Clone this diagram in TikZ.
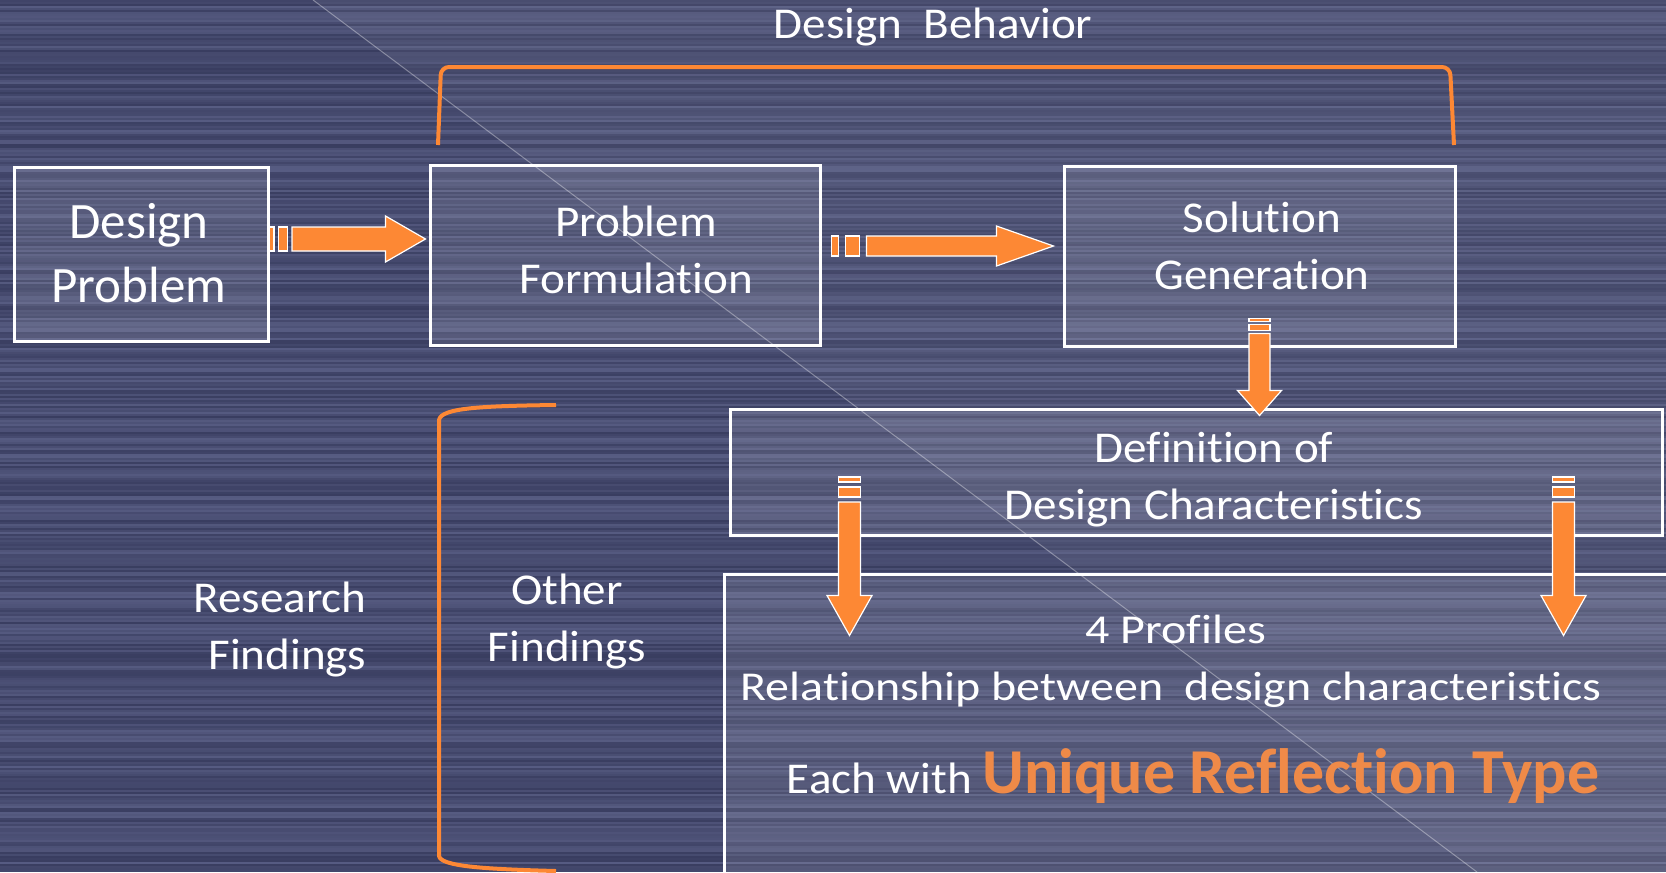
\documentclass[tikz,border=0pt]{standalone}
\usepackage{fontspec}
\setmainfont{Carlito}[Ligatures={NoCommon,NoContextual}]
\newfontfamily\slidefont[FakeStretch=1.07,Ligatures={NoCommon,NoContextual}]{Carlito}
\newfontfamily\widefont[FakeStretch=1.17,Ligatures={NoCommon,NoContextual}]{Carlito}
\usepackage{tikz}
\usetikzlibrary{calc}
\definecolor{slatebg}{RGB}{68,73,112}
\definecolor{streaklo}{RGB}{50,54,88}
\definecolor{streakhi}{RGB}{94,99,138}
\definecolor{flow}{RGB}{253,136,52}
\definecolor{flowtext}{RGB}{239,138,72}
\tikzset{
  stagebox/.style 2 args={draw=white, line width=2.25pt, fill=white, fill opacity=0.1,
    inner sep=0pt, minimum width=#1*0.75pt, minimum height=#2*0.75pt},
  stagetext/.style={text=white, align=center, inner sep=0pt,
    font=\slidefont\fontsize{33}{42.75}\selectfont},
  flowpart/.style={fill=flow, draw=white, line width=0.9pt},
  bracket/.style={draw=flow, line width=3pt},
}
% block arrow: from, to, body half width, head half width, head length, stripe unit (px)
\newcommand{\flowarrow}[6]{%
  \path (#1) coordinate (fa-a) (#2) coordinate (fa-b);
  \pgfpointdiff{\pgfpointanchor{fa-a}{center}}{\pgfpointanchor{fa-b}{center}}%
  \pgfgetlastxy{\fadx}{\fady}%
  \pgfmathsetmacro{\falen}{veclen(\fadx,\fady)/0.75}%
  \pgfmathsetmacro{\faang}{atan2(\fady,\fadx)}%
  \begin{scope}[shift={(fa-a)}, rotate=\faang, x=0.75pt, y=0.75pt]
    \filldraw[flowpart] (0,-#3) rectangle (#6,#3);
    \filldraw[flowpart] (2*#6,-#3) rectangle (4*#6,#3);
    \filldraw[flowpart] (5*#6,-#3) -- ({\falen-#5},-#3) -- ({\falen-#5},-#4) -- (\falen,0)
      -- ({\falen-#5},#4) -- ({\falen-#5},#3) -- (5*#6,#3) -- cycle;
  \end{scope}}

\begin{document}
\begin{tikzpicture}[x=0.75pt,y=-0.75pt]
\clip (0,0) rectangle (1666,872);
\fill[slatebg] (0,0) rectangle (1666,872);
\pgfmathsetseed{42}
\foreach \k in {0,...,435}{
  \pgfmathsetmacro\mixval{int(15+70*rnd)}
  \fill[streakhi!\mixval!streaklo] (0,2*\k) rectangle (1666,2*\k+2);
}
\fill[white, opacity=0.05] (313,0) -- (1666,0) -- (1666,872) -- (1477,872) -- cycle;
\draw[white, opacity=0.35, line width=0.75pt] (313,0) -- (1477,872);

\node[stagebox={254}{174}] (dp) at (141,254) {};
\node[stagebox={390}{180}] (pf) at (625,255) {};
\node[stagebox={391}{180}] (sg) at (1259.5,256) {};
\node[stagebox={932}{126}] (def) at (1196,472) {};
\node[stagebox={976}{356}] (prof) at (1212,752) {};

\node[stagetext, font=\fontsize{38.25}{48}\selectfont] (dptext) at (139,253.5) {Design\\Problem};
\node[stagetext] (pftext) at (636,249.5) {Problem\\Formulation};
\node[stagetext] (sgtext) at (1262,246) {Solution\\Generation};
\node[stagetext] (deftext) at (1214,480) {Definition of\\Design Characteristics};
\node[stagetext] (behavior) at (933,27.5) {Design\ \ Behavior};
\node[stagetext, align=right] (research) at (280,629.5) {Research\\Findings};
\node[stagetext] (other) at (567,621) {Other\\Findings};
\node[stagetext, anchor=base, font=\widefont\fontsize{30.75}{40}\selectfont] (profiles) at (1176,643) {4 Profiles};
\node[stagetext, anchor=base, font=\widefont\fontsize{30.75}{40}\selectfont] (relation) at (1171,700) {Relationship between\ \ design characteristics};
\node[stagetext, anchor=base] (reflection) at (1193,793) {Each with {\rmfamily\bfseries\fontsize{48}{52}\selectfont\color{flowtext}Unique Reflection Type}};

\draw[bracket, rounded corners=6pt] (438,145) -- (441,67) -- (1450,67) -- (1454,145);
\draw[bracket] (556,405) .. controls (480,406) and (441,408) .. (439,420) -- (439,856)
  .. controls (441,866) and (480,869) .. (556,871);

\coordinate (dl) at ($(def.west)+(121,5)$);
\coordinate (dr) at ($(def.east)+(-100,5)$);
\flowarrow{$(dp.east)+(0,-15)$}{$(pf.west)+(-3,-16)$}{12}{23}{40}{4.5}
\flowarrow{$(pf.east)+(10,-9)$}{$(sg.west)+(-9,-10)$}{10}{20}{57}{7}
\flowarrow{$(sg.south)+(0,-29)$}{$(sg.south |- def.north)+(0,8)$}{10.5}{22}{25}{3}
\flowarrow{dl}{$(dl |- prof.north)+(0,63)$}{11}{22.5}{40}{5}
\flowarrow{dr}{$(dr |- prof.north)+(0,63)$}{11}{22.5}{40}{5}
\end{tikzpicture}
\end{document}
